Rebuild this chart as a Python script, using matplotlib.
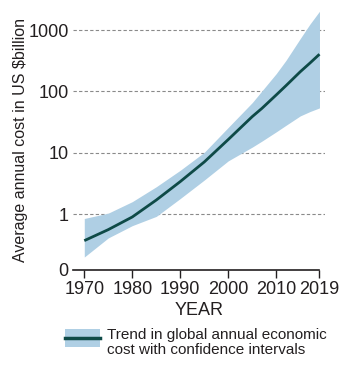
import matplotlib as mpl
import matplotlib.pyplot as plt
import matplotlib.patches as mpatches
from matplotlib.lines import Line2D

mpl.rcParams.update({
    "font.family": ["Liberation Sans", "DejaVu Sans"],
    "text.color": "#231f20", "axes.labelcolor": "#231f20",
    "xtick.color": "#231f20", "ytick.color": "#231f20",
})

# values (US$ billion, log scale)
years = [1970, 1975, 1980, 1985, 1990, 1995, 2000, 2005, 2007, 2010, 2012, 2015, 2017, 2019]
trend = [0.37, 0.56, 0.9, 1.7, 3.4, 7.1, 16.5, 39, 53, 88, 124, 210, 290, 405]
upper = [0.85, 1.04, 1.6, 2.8, 5.2, 10.2, 26, 66, 102, 196, 320, 730, 1250, 2030]
lower = [0.2, 0.41, 0.65, 0.92, 1.8, 3.6, 7.4, 12.4, 15.5, 22, 28, 40, 47, 54]

xticks = [1970, 1980, 1990, 2000, 2010, 2019]
yticks = [0.123, 1, 10, 100, 1000]
ylabels = ["0", "1", "10", "100", "1000"]

C_BAND = "#afcfe4"; C_LINE = "#0e4a47"; C_GRID = "#8a8a8a"; C_TXT = "#231f20"

fig = plt.figure(figsize=(3.53, 3.78), dpi=100)
ax = fig.add_axes([73/353, 1-270/378, (325-73)/353, (270-10)/378])

ax.fill_between(years, lower, upper, color=C_BAND, lw=0, zorder=2)
ax.plot(years, trend, color=C_LINE, lw=2.0, zorder=3, solid_capstyle="butt")

ax.set_yscale("log")
ax.set_xlim(1967.65, 2020.15)
ax.set_ylim(0.123, 2130)
for v in yticks[1:]:
    ax.axhline(v, color=C_GRID, lw=0.8, ls=(0, (3, 2)), zorder=1)

ax.set_yticks(yticks)
ax.set_yticklabels(ylabels)
ax.yaxis.set_minor_locator(mpl.ticker.NullLocator())
ax.tick_params(axis="y", length=0, pad=3, labelsize=13)
ax.set_xticks(xticks)
ax.tick_params(axis="x", length=6, width=1.0, pad=2, labelsize=13)

for s in ["left", "right", "top"]:
    ax.spines[s].set_visible(False)
ax.spines["bottom"].set_bounds(1967.65, 2019)
ax.spines["bottom"].set_linewidth(1.2)
ax.spines["bottom"].set_color(C_TXT)

ax.set_xlabel("YEAR", fontsize=13, labelpad=3)
ax.set_ylabel("Average annual cost in US $billion", fontsize=11.5, labelpad=0)

# legend drawn by hand so the key lines up with the first text line
fig.add_artist(mpatches.Rectangle((65/353, 1-347/378), 35/353, 18/378,
                                  transform=fig.transFigure, facecolor=C_BAND,
                                  edgecolor="none"))
fig.add_artist(Line2D([65/353, 100/353], [1-338/378, 1-338/378],
                      transform=fig.transFigure, color=C_LINE, lw=2.5))
fig.text(107/353, 1-328/378,
         "Trend in global annual economic\ncost with confidence intervals",
         fontsize=11, va="top", ha="left", linespacing=1.1)

fig.savefig("out.png", dpi=100)
